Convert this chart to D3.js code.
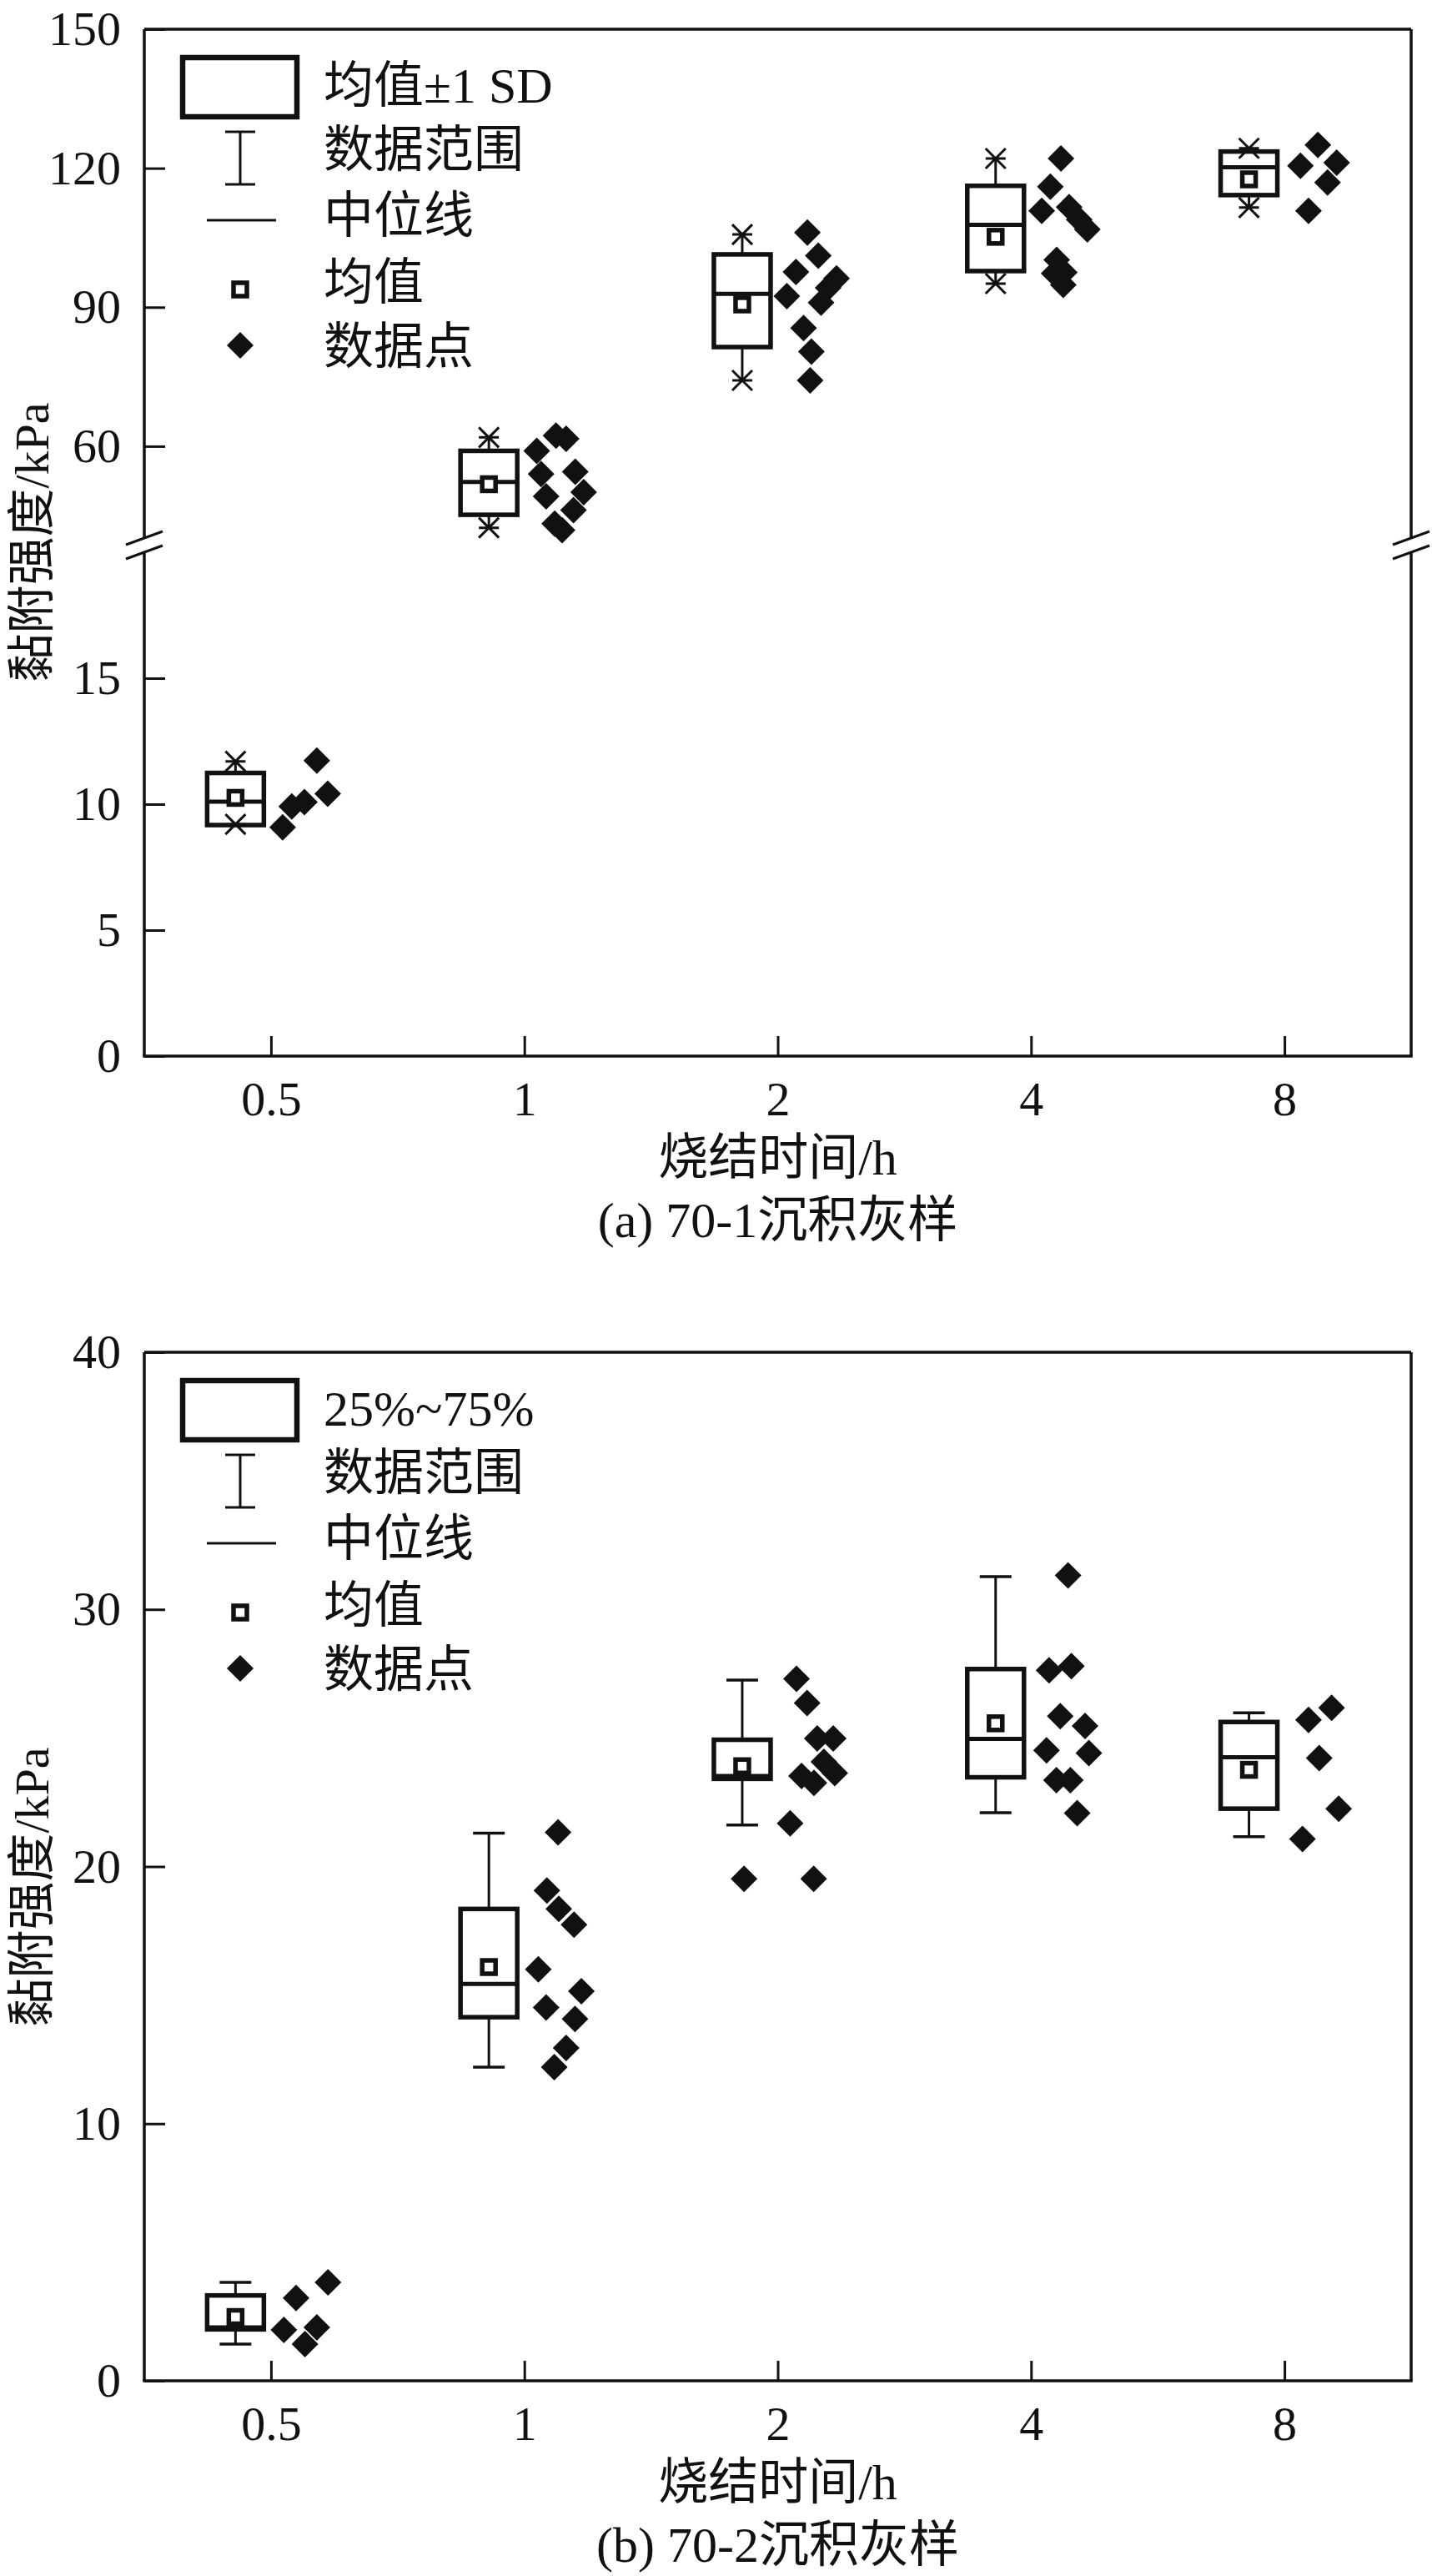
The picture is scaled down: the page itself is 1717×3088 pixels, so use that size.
<!DOCTYPE html>
<html>
<head>
<meta charset="utf-8">
<script src="https://cdn.jsdelivr.net/npm/d3@7"></script>
<style>
body { margin: 0; background: #fff; }
text { font-family: "Liberation Serif", "Noto Sans CJK SC", serif; fill: #111; }
</style>
</head>
<body>
<div id="chart"></div>
<script>
// =================================================================
// Data
// =================================================================
var times = ['0.5', '1', '2', '4', '8'];

// (a) 70-1 : box = mean ± 1 SD, stars = data range
var aBoxLow  = [9.17, 45.2, 81.4, 97.8, 114.2];
var aBoxHigh = [11.24, 59.0, 101.4, 116.2, 123.6];
var aMedian  = [10.1, 52.3, 92.9, 107.8, 120.2];
var aMean    = [10.25, 51.8, 90.6, 105.2, 117.6];
var aMin     = [9.2, 42.4, 74.2, 95.1, 111.5];
var aMax     = [11.7, 61.9, 105.7, 122.1, 124.3];
var aPoints = [
	[9.08, 9.91, 10.08, 11.73, 10.41],
	[59.0, 62.3, 61.6, 54.0, 54.5, 49.2, 50.1, 46.2, 43.3, 41.9],
	[106.1, 101.1, 97.6, 92.4, 96.2, 94.2, 91.0, 85.5, 80.4, 74.2],
	[122.1, 116.0, 110.8, 111.6, 108.9, 106.8, 100.2, 97.5, 97.3, 94.8],
	[125.0, 120.5, 121.2, 116.9, 110.8]
];
// horizontal scatter of each point, as a fraction of the category step
var aJitter = [
	[.046, .082, .132, .181, .224],
	[.049, .125, .165, .066, .201, .086, .234, .194, .120, .149],
	[.117, .160, .072, .036, .232, .199, .171, .102, .133, .128],
	[.118, .076, .042, .150, .190, .222, .101, .131, .091, .127],
	[.132, .063, .206, .170, .095]
];

// (b) 70-2 : box = 25%~75%, whiskers = data range
var bBoxLow  = [2.0, 14.14, 23.41, 23.47, 22.25];
var bBoxHigh = [3.32, 18.35, 24.93, 27.68, 25.62];
var bMedian  = [2.08, 15.43, 23.52, 24.96, 24.25];
var bMean    = [2.48, 16.09, 23.9, 25.57, 23.76];
var bMin     = [1.43, 12.2, 21.61, 22.09, 21.16];
var bMax     = [3.83, 21.3, 27.25, 31.27, 25.98];
var bPoints = [
	[3.22, 3.83, 1.98, 2.08, 1.43],
	[21.33, 19.07, 18.35, 17.74, 16.0, 15.15, 14.52, 14.07, 12.94, 12.2],
	[27.3, 26.36, 24.98, 24.98, 24.07, 23.63, 23.52, 23.25, 21.68, 19.52, 19.52],
	[31.32, 27.63, 27.79, 25.85, 25.47, 24.52, 24.41, 23.36, 23.36, 22.08],
	[25.7, 26.17, 24.22, 22.25, 21.07]
];
var bJitter = [
	[.099, .225, .051, .181, .134],
	[.133, .089, .136, .196, .055, .225, .086, .200, .165, .118],
	[.074, .116, .156, .219, .182, .225, .094, .143, .049, -.133, .142],
	[.146, .071, .159, .115, .213, .061, .228, .100, .155, .182],
	[.095, .186, .137, .214, .071]
];

var aTicksUp = [60, 90, 120, 150],
	aTicksLow = [0, 5, 10, 15],
	bTicks = [0, 10, 20, 30, 40];

var aLegend = ['均值±1 SD', '数据范围', '中位线', '均值', '数据点'],
	bLegend = ['25%~75%', '数据范围', '中位线', '均值', '数据点'];

// =================================================================
// Layout
// =================================================================
var svgWidth = 1717,
	svgHeight = 3088;

var ink = '#111';
var left = 173, right = 1692;
var boxOff = -0.14, boxW = 68;

var svg = d3.select('#chart')
	.append('svg')
	.attr('width', svgWidth)
	.attr('height', svgHeight);

var x = d3.scalePoint()
	.domain(times)
	.range([left, right])
	.padding(0.5);
var step = x.step();

// panel (a) has a broken y axis
var aTop = 35, aBottom = 1266;
var yUp = d3.scaleLinear().domain([40, 150]).range([646, aTop]);
var yLow = d3.scaleLinear().domain([0, 20]).range([aBottom, 662]);
function yA(v) { return v >= 30 ? yUp(v) : yLow(v); }

var bTop = 1621, bBottom = 2854;
var yB = d3.scaleLinear().domain([0, 40]).range([bBottom, bTop]);

function styleAxis(g) {
	g.attr('font-family', null).attr('font-size', null);
	g.select('.domain').remove();
	g.selectAll('line').attr('stroke', ink).attr('stroke-width', 3);
	g.selectAll('text').style('font-size', '58px').attr('fill', ink);
}

function drawFrame(top, bottom, gap) {
	var f = svg.append('g')
		.attr('stroke', ink)
		.attr('stroke-width', 3.5)
		.attr('fill', 'none');
	f.append('line').attr('x1', left).attr('x2', right).attr('y1', top).attr('y2', top);
	f.append('line').attr('x1', left - 1.75).attr('x2', right + 1.75).attr('y1', bottom).attr('y2', bottom);
	[left, right].forEach(function (xx) {
		if (gap) {
			f.append('line').attr('x1', xx).attr('x2', xx).attr('y1', top).attr('y2', gap[0]);
			f.append('line').attr('x1', xx).attr('x2', xx).attr('y1', gap[1]).attr('y2', bottom);
			gap.forEach(function (gy) {
				f.append('line')
					.attr('x1', xx - 22).attr('y1', gy + 8)
					.attr('x2', xx + 22).attr('y2', gy - 8)
					.attr('stroke-width', 3);
			});
		} else {
			f.append('line').attr('x1', xx).attr('x2', xx).attr('y1', top).attr('y2', bottom);
		}
	});
}

function drawPanel(p) {
	var g = svg.append('g');
	var cx = function (i) { return x(times[i]) + boxOff * step; };

	// whiskers
	times.forEach(function (t, i) {
		g.append('line')
			.attr('x1', cx(i)).attr('x2', cx(i))
			.attr('y1', p.y(p.high[i])).attr('y2', p.y(p.max[i]))
			.attr('stroke', ink).attr('stroke-width', 3);
		g.append('line')
			.attr('x1', cx(i)).attr('x2', cx(i))
			.attr('y1', p.y(p.low[i])).attr('y2', p.y(p.min[i]))
			.attr('stroke', ink).attr('stroke-width', 3);
		[p.min[i], p.max[i]].forEach(function (v) {
			var yy = p.y(v);
			if (p.stars) {
				var s = 12;
				g.append('path')
					.attr('d', `M${cx(i) - s},${yy - s}L${cx(i) + s},${yy + s}M${cx(i) - s},${yy + s}L${cx(i) + s},${yy - s}M${cx(i) - s},${yy}L${cx(i) + s},${yy}`)
					.attr('stroke', ink).attr('stroke-width', 3).attr('fill', 'none');
			} else {
				g.append('line')
					.attr('x1', cx(i) - 19).attr('x2', cx(i) + 19)
					.attr('y1', yy).attr('y2', yy)
					.attr('stroke', ink).attr('stroke-width', 3.5);
			}
		});
	});

	// boxes
	g.selectAll('rect.box')
		.data(times)
		.enter()
		.append('rect')
		.attr('class', 'box')
		.attr('x', (d, i) => cx(i) - boxW / 2)
		.attr('y', (d, i) => p.y(p.high[i]))
		.attr('width', boxW)
		.attr('height', (d, i) => p.y(p.low[i]) - p.y(p.high[i]))
		.attr('fill', 'none')
		.attr('stroke', ink)
		.attr('stroke-width', 5.5);

	g.selectAll('line.median')
		.data(times)
		.enter()
		.append('line')
		.attr('class', 'median')
		.attr('x1', (d, i) => cx(i) - boxW / 2)
		.attr('x2', (d, i) => cx(i) + boxW / 2)
		.attr('y1', (d, i) => p.y(p.median[i]))
		.attr('y2', (d, i) => p.y(p.median[i]))
		.attr('stroke', ink)
		.attr('stroke-width', 5);

	g.selectAll('rect.mean')
		.data(times)
		.enter()
		.append('rect')
		.attr('class', 'mean')
		.attr('x', (d, i) => cx(i) - 8)
		.attr('y', (d, i) => p.y(p.mean[i]) - 8)
		.attr('width', 16)
		.attr('height', 16)
		.attr('fill', '#fff')
		.attr('stroke', ink)
		.attr('stroke-width', 5.5);

	// data points
	var diamond = d3.symbol().type(d3.symbolSquare).size(512);
	var pts = [];
	p.points.forEach(function (arr, i) {
		arr.forEach(function (v, j) {
			pts.push({ t: times[i], v: v, j: p.jitter[i][j] });
		});
	});
	g.selectAll('path.pt')
		.data(pts)
		.enter()
		.append('path')
		.attr('class', 'pt')
		.attr('d', diamond)
		.attr('transform', d => `translate(${x(d.t) + d.j * step},${p.y(d.v)})rotate(45)`)
		.attr('fill', ink);

	// legend
	var lg = svg.append('g').attr('transform', `translate(${left},${p.top})`);
	lg.append('rect')
		.attr('x', 46).attr('y', 34).attr('width', 137).attr('height', 71)
		.attr('fill', 'none').attr('stroke', ink).attr('stroke-width', 6.5);
	lg.append('path')
		.attr('d', 'M97,123H133M115,123V186M97,186H133')
		.attr('stroke', ink).attr('stroke-width', 3).attr('fill', 'none');
	lg.append('line')
		.attr('x1', 75).attr('x2', 158).attr('y1', 229).attr('y2', 229)
		.attr('stroke', ink).attr('stroke-width', 3.2);
	lg.append('rect')
		.attr('x', 107).attr('y', 304).attr('width', 16).attr('height', 16)
		.attr('fill', '#fff').attr('stroke', ink).attr('stroke-width', 5.5);
	lg.append('path')
		.attr('d', diamond)
		.attr('transform', 'translate(115,379)rotate(45)')
		.attr('fill', ink);
	var rows = [68, 145, 224, 304, 381];
	lg.selectAll('text')
		.data(p.legend)
		.enter()
		.append('text')
		.attr('x', 215)
		.attr('y', (d, i) => rows[i])
		.attr('dominant-baseline', 'central')
		.style('font-size', '60px')
		.text(d => d);

	// axis titles
	svg.append('text')
		.attr('transform', `translate(38,${p.yTitle})rotate(-90)`)
		.attr('text-anchor', 'middle')
		.attr('dominant-baseline', 'central')
		.style('font-size', '58px')
		.text('黏附强度/kPa');
	svg.append('text')
		.attr('x', x('2'))
		.attr('y', p.bottom + 122)
		.attr('text-anchor', 'middle')
		.attr('dominant-baseline', 'central')
		.style('font-size', '60px')
		.text('烧结时间/h');
	svg.append('text')
		.attr('x', x('2'))
		.attr('y', p.bottom + 197)
		.attr('text-anchor', 'middle')
		.attr('dominant-baseline', 'central')
		.style('font-size', '60px')
		.text(p.caption);
}

// =================================================================
// Panel (a)
// =================================================================
svg.append('g')
	.attr('transform', `translate(${left},0)`)
	.call(d3.axisLeft(yUp).tickValues(aTicksUp).tickSize(-25).tickPadding(28))
	.call(styleAxis);
svg.append('g')
	.attr('transform', `translate(${left},0)`)
	.call(d3.axisLeft(yLow).tickValues(aTicksLow).tickSize(-25).tickPadding(28))
	.call(styleAxis);
svg.append('g')
	.attr('transform', `translate(0,${aBottom})`)
	.call(d3.axisBottom(x).tickSize(-24).tickPadding(30))
	.call(styleAxis);
drawFrame(aTop, aBottom, [645, 662]);

drawPanel({
	y: yA, top: aTop, bottom: aBottom, stars: true,
	low: aBoxLow, high: aBoxHigh, median: aMedian, mean: aMean,
	min: aMin, max: aMax, points: aPoints, jitter: aJitter,
	legend: aLegend, yTitle: 650, caption: '(a) 70-1沉积灰样'
});

// =================================================================
// Panel (b)
// =================================================================
svg.append('g')
	.attr('transform', `translate(${left},0)`)
	.call(d3.axisLeft(yB).tickValues(bTicks).tickSize(-25).tickPadding(28))
	.call(styleAxis);
svg.append('g')
	.attr('transform', `translate(0,${bBottom})`)
	.call(d3.axisBottom(x).tickSize(-24).tickPadding(30))
	.call(styleAxis);
drawFrame(bTop, bBottom, null);

drawPanel({
	y: yB, top: bTop, bottom: bBottom, stars: false,
	low: bBoxLow, high: bBoxHigh, median: bMedian, mean: bMean,
	min: bMin, max: bMax, points: bPoints, jitter: bJitter,
	legend: bLegend, yTitle: 2262, caption: '(b) 70-2沉积灰样'
});
</script>
</body>
</html>
